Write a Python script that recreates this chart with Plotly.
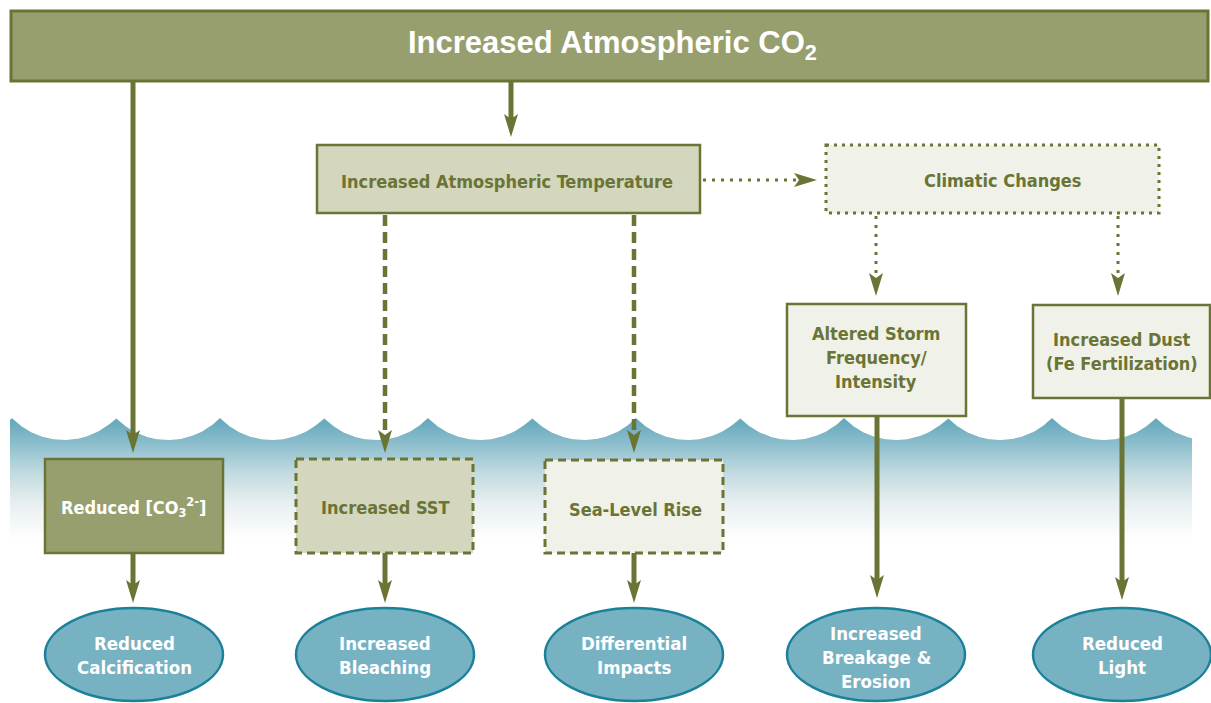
import numpy as np
import plotly.graph_objects as go

# ---------------- content ----------------
title_label = "Increased Atmospheric CO<sub>2</sub>"
mid_labels = ["Increased Atmospheric Temperature", "Climatic Changes"]
driver_labels = ["Altered Storm<br>Frequency/<br>Intensity", "Increased Dust<br>(Fe Fertilization)"]
stress_labels = ["Reduced [CO<sub>3</sub><sup>2-</sup>]", "Increased SST", "Sea-Level Rise"]
impact_labels = ["Reduced<br>Calcification", "Increased<br>Bleaching", "Differential<br>Impacts",
                 "Increased<br>Breakage &<br>Erosion", "Reduced<br>Light"]

# ---------------- styles ----------------
OLIVE = "#6a7434"
OLIVE_FILL = "#989f6e"
TAN_FILL = "#d4d6be"
PALE_FILL = "#f0f1e9"
ELL_FILL = "#77b2c3"
ELL_LINE = "#1b8099"
COND = "DejaVu Sans Condensed, Liberation Sans Narrow, sans-serif"
W, H = 1211, 703

fig = go.Figure()

# ---------------- water with scalloped surface ----------------
cusp_y, trough_y, period = 418, 440, 104
R = ((period / 2) ** 2 + (trough_y - cusp_y) ** 2) / (2 * (trough_y - cusp_y))
cy = trough_y - R
xs = np.linspace(10, 1192, 1200)
mids = 12 + period / 2 + period * np.floor((xs - 12) / period)
ys = cy + np.sqrt(np.maximum(R ** 2 - (xs - mids) ** 2, 0))
ys = np.minimum(ys, trough_y)
wx = [10] + list(xs) + [1192, 1192, 10, 10]
wy = [cusp_y] + list(ys) + [cusp_y, 545, 545, cusp_y]
fig.add_trace(go.Scatter(
    x=wx, y=wy, mode="lines", line=dict(width=0), fill="toself",
    fillgradient=dict(type="vertical", start=418, stop=540,
                      colorscale=[[0, "#62a6bb"], [0.2, "#8abdcb"], [0.45, "#c1dbe1"],
                                  [0.7, "#e8eff0"], [0.85, "#f4f7f7"], [1, "#ffffff"]]),
    hoverinfo="skip", showlegend=False))

shapes = []
annotations = []


def rect(x0, y0, x1, y1, fill, dash="solid", lw=2.5):
    shapes.append(dict(type="rect", x0=x0, x1=x1, y0=y0, y1=y1, xref="x", yref="y",
                       fillcolor=fill, line=dict(color=OLIVE, width=lw, dash=dash), layer="above"))


def vline(x, y0, y1, dash="solid", lw=5):
    shapes.append(dict(type="line", x0=x, x1=x, y0=y0, y1=y1, xref="x", yref="y",
                       line=dict(color=OLIVE, width=lw, dash=dash), layer="above"))


def down_head(x, tip):
    shapes.append(dict(type="path", xref="x", yref="y", fillcolor=OLIVE, line=dict(width=0),
                       path=f"M {x},{tip} L {x-7},{tip-23} L {x},{tip-18} L {x+7},{tip-23} Z",
                       layer="above"))


def right_head(tip, y):
    shapes.append(dict(type="path", xref="x", yref="y", fillcolor=OLIVE, line=dict(width=0),
                       path=f"M {tip},{y} L {tip-23},{y-7} L {tip-18},{y} L {tip-23},{y+7} Z",
                       layer="above"))


def label(text, x, y, color, size=18, family=COND, spacing=24):
    lines = text.split("<br>")
    n = len(lines)
    for i, ln in enumerate(lines):
        annotations.append(dict(x=x, y=y + (i - (n - 1) / 2) * spacing, xref="x", yref="y",
                                text=f"<b>{ln}</b>", showarrow=False,
                                font=dict(family=family, size=size, color=color)))


# ---------------- top box ----------------
rect(11, 11, 1208, 81, OLIVE_FILL, lw=3)
label(title_label, 612, 45, "white", size=31, family="Liberation Sans, Arial, sans-serif")

# ---------------- second row ----------------
rect(317, 145, 700, 213, TAN_FILL)
label(mid_labels[0], 507, 181, OLIVE)
rect(826, 145, 1159, 213, PALE_FILL, dash="3px,5px", lw=3)
label(mid_labels[1], 1002, 180, OLIVE)

# arrows from top box
vline(133, 81, 436)
down_head(133, 453)
vline(511, 81, 120)
down_head(511, 137)

# dotted arrow temp -> climatic
shapes.append(dict(type="line", x0=703, x1=800, y0=180, y1=180, xref="x", yref="y",
                   line=dict(color=OLIVE, width=3, dash="3px,6px"), layer="above"))
right_head(817, 180)

# dotted arrows from climatic
for xx in (876, 1118):
    vline(xx, 216, 276, dash="3px,6px", lw=3)
    down_head(xx, 296)

# dashed arrows from temperature
for xx in (385, 634):
    vline(xx, 215, 436, dash="11px,6px", lw=4.5)
    down_head(xx, 453)

# ---------------- driver boxes ----------------
rect(787, 304, 966, 416, PALE_FILL)
label(driver_labels[0], 876, 357, OLIVE)
rect(1033, 305, 1210, 398, PALE_FILL)
label(driver_labels[1], 1122, 351, OLIVE)

# ---------------- stress boxes ----------------
rect(45, 459, 223, 553, OLIVE_FILL)
label(stress_labels[0], 133, 507, "white")
rect(296, 459, 473, 553, TAN_FILL, dash="8px,5px", lw=3)
label(stress_labels[1], 385, 507, OLIVE)
rect(545, 460, 723, 553, PALE_FILL, dash="8px,5px", lw=3)
label(stress_labels[2], 635, 509, OLIVE)

# arrows to impacts
for xx, y0, tip in ((133, 553, 603), (385, 553, 603), (634, 553, 603), (877, 416, 598), (1122, 398, 600)):
    vline(xx, y0, tip - 17)
    down_head(xx, tip)

# ---------------- impact ellipses ----------------
ell_cx = [134, 385, 634, 876, 1122]
for cx, txt in zip(ell_cx, impact_labels):
    shapes.append(dict(type="circle", x0=cx - 89, x1=cx + 89, y0=608, y1=701, xref="x", yref="y",
                       fillcolor=ELL_FILL, line=dict(color=ELL_LINE, width=2.5), layer="above"))
    label(txt, cx, 655 if txt.count("<br>") == 1 else 657, "white", size=18.5, spacing=24)

fig.update_layout(
    width=W, height=H, margin=dict(l=0, r=0, t=0, b=0),
    paper_bgcolor="white", plot_bgcolor="white",
    xaxis=dict(range=[0, W], visible=False, fixedrange=True),
    yaxis=dict(range=[H, 0], visible=False, fixedrange=True),
    shapes=shapes, annotations=annotations, showlegend=False,
)

fig.write_html("out.html", config={"displayModeBar": False},
               post_script="document.body.style.margin='0px';document.body.style.padding='0px';")
